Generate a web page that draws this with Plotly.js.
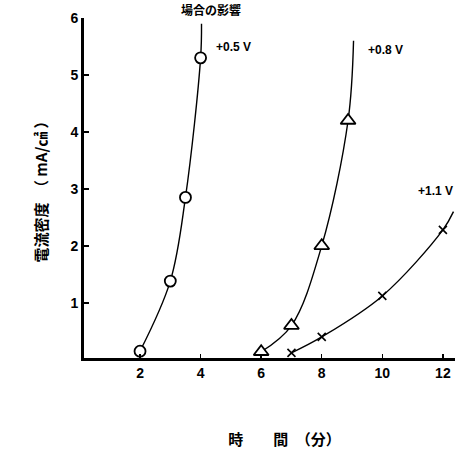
<!DOCTYPE html>
<html>
<head>
<meta charset="utf-8">
<script src="https://cdn.plot.ly/plotly-3.0.1.min.js"></script>
<style>html,body{margin:0;padding:0;background:#fff;}#chart{width:469px;height:463px;}</style>
</head>
<body>
<div id="chart"></div>
<script>
// Measured points (time in minutes, current density in mA/cm2)
const t05 = [2, 3, 3.5, 4];
const i05 = [0.15, 1.38, 2.85, 5.3];
const t08 = [6, 7, 8, 8.87];
const i08 = [0.14, 0.6, 2.0, 4.2];
const t11 = [7, 8, 10, 12];
const i11 = [0.12, 0.4, 1.12, 2.28];
const end05 = [4.03, 5.9];
const end08 = [9.05, 5.6];
const end11 = [12.35, 2.6];
const seriesLabels = ["+0.5 V", "+0.8 V", "+1.1 V"];
const labelPos = [[4.45, 5.49], [9.45, 5.43], [11.1, 2.96]];
const xTicks = [2, 4, 6, 8, 10, 12];
const yTicks = [1, 2, 3, 4, 5, 6];

const cjk = '"Noto Sans CJK JP", sans-serif';
const latin = '"Liberation Sans", Arial, sans-serif';

function curve(xs, ys, end) {
  return {x: xs.concat([end[0]]), y: ys.concat([end[1]]), mode: 'lines',
    line: {shape: 'spline', smoothing: 1, color: '#000', width: 1.4},
    hoverinfo: 'skip', showlegend: false};
}
function marks(xs, ys, sym, size) {
  return {x: xs, y: ys, mode: 'markers',
    marker: {symbol: sym, size: size, color: '#fff', line: {color: '#000', width: 1.8}},
    showlegend: false};
}
const traces = [
  curve(t05, i05, end05),
  curve(t08, i08, end08),
  curve(t11, i11, end11),
  marks(t05, i05, 'circle', 11),
  marks(t08, i08, 'triangle-up', 13),
  {x: t11, y: i11, mode: 'markers', marker: {symbol: 'x-thin', size: 8, line: {color: '#000', width: 1.6}}, showlegend: false}
];

const annotations = seriesLabels.map((s, k) => ({
  x: labelPos[k][0], y: labelPos[k][1], xref: 'x', yref: 'y', text: '<b>' + s + '</b>',
  showarrow: false, xanchor: 'left', yanchor: 'middle',
  font: {family: latin, size: 12, color: '#000'}
}));

const layout = {
  width: 469, height: 463,
  margin: {l: 84, r: 14, t: 18, b: 105},
  paper_bgcolor: '#fff', plot_bgcolor: '#fff',
  title: {text: '<b>場合の影響</b>', x: 0.45, xanchor: 'center', y: 0.976, yanchor: 'middle', yref: 'container',
    font: {family: cjk, size: 12, color: '#000'}},
  xaxis: {
    range: [0.15, 12.4], tickvals: xTicks, ticktext: xTicks.map(v => '<b>' + v + '</b>'),
    showgrid: false, zeroline: false, showline: true, linecolor: '#000', linewidth: 3,
    ticks: 'inside', ticklen: 4, tickwidth: 1.5, tickcolor: '#000',
    tickfont: {family: latin, size: 14, color: '#000'},
    title: {text: '<b>\u3000\u3000時　　間　（分）</b>', standoff: 55, font: {family: cjk, size: 15, color: '#000'}}
  },
  yaxis: {
    range: [0.03, 6], tickvals: yTicks, ticktext: yTicks.map(v => '<b>' + v + '</b>'),
    showgrid: false, zeroline: false, showline: true, linecolor: '#000', linewidth: 3,
    ticks: 'inside', ticklen: 5, tickwidth: 1.5, tickcolor: '#000',
    tickfont: {family: latin, size: 14, color: '#000'},
    title: {text: '<b>電流密度　（ mA/㎠ ）</b>', standoff: 20, font: {family: cjk, size: 15, color: '#000'}}
  },
  annotations: annotations
};

Plotly.newPlot('chart', traces, layout, {staticPlot: true, displayModeBar: false});
</script>
</body>
</html>
